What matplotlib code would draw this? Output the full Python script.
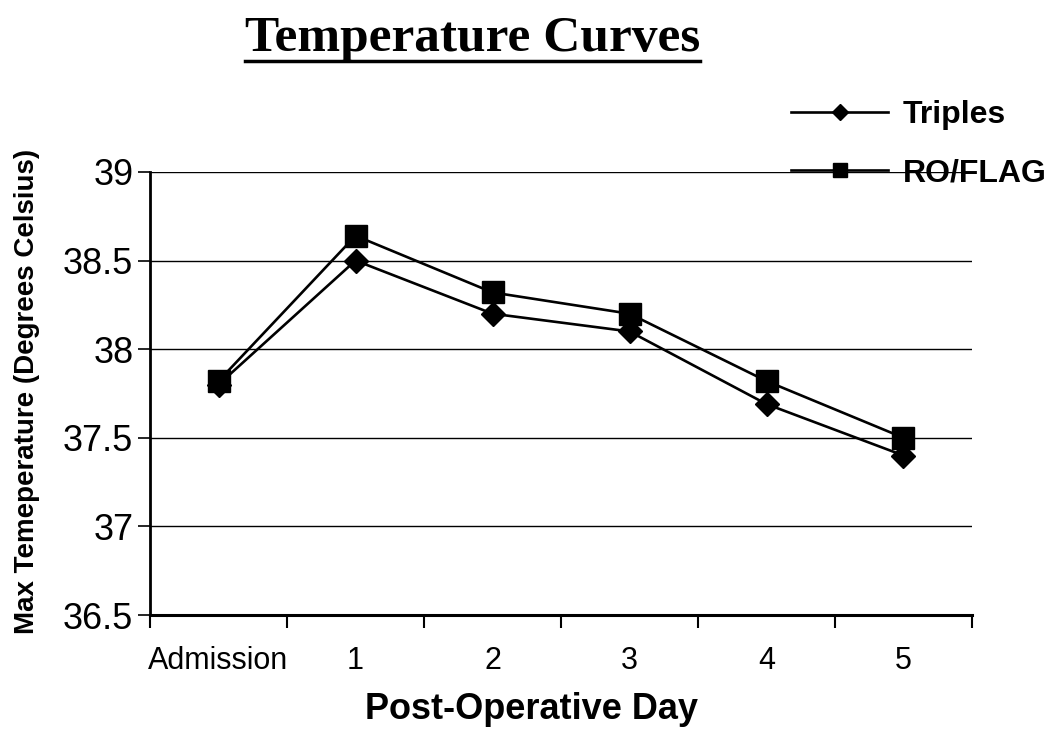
import numpy as np
import matplotlib
matplotlib.use('Agg')
import matplotlib.pyplot as plt
from matplotlib.lines import Line2D

# data
days = ['Admission', '1', '2', '3', '4', '5']
triples = [37.8, 38.5, 38.2, 38.1, 37.69, 37.4]
ro_flag = [37.82, 38.64, 38.32, 38.2, 37.82, 37.5]
yticks = [36.5, 37, 37.5, 38, 38.5, 39]

plt.rcParams['font.family'] = ['Liberation Sans', 'DejaVu Sans']

fig = plt.figure(figsize=(10.5, 7.41), dpi=100)
ax = fig.add_axes([0.1429, 0.170, 0.7828, 0.598])

x = np.arange(len(days))
ax.plot(x, triples, color='black', lw=1.9, marker='D', ms=12, label='Triples', zorder=3)
ax.plot(x, ro_flag, color='black', lw=1.9, marker='s', ms=16, label='RO/FLAG', zorder=3)

ax.set_xlim(-0.5, len(days) - 0.5)
ax.set_ylim(36.5, 39)
ax.set_yticks(yticks)
ax.set_yticklabels(['36.5', '37', '37.5', '38', '38.5', '39'], fontsize=26)
for v in yticks[1:]:
    ax.axhline(v, color='black', lw=1.0, zorder=1)

ax.set_xticks(x)
ax.set_xticklabels(days)
for lab in ax.get_xticklabels():
    lab.set_fontsize(22)
ax.tick_params(axis='x', which='major', length=0, pad=22)
ax.set_xticks(np.arange(-0.5, len(days) + 0.5, 1.0), minor=True)
ax.tick_params(axis='x', which='minor', length=9, width=1.5, direction='out')
ax.tick_params(axis='y', length=9, width=1.2, direction='out', pad=3)

for s in ['top', 'right']:
    ax.spines[s].set_visible(False)
ax.spines['left'].set_linewidth(2)
ax.spines['bottom'].set_linewidth(2.2)

xl = ax.set_xlabel('Post-Operative Day', fontsize=26, fontweight='bold')
ax.xaxis.set_label_coords(0.4635, -0.214)
xl.set_verticalalignment('center')
yl = ax.set_ylabel('Max Temeperature (Degrees Celsius)', fontsize=20, fontweight='bold')
ax.yaxis.set_label_coords(-0.15, 0.505)
yl.set_verticalalignment('center')

ax.legend(loc='upper left', bbox_to_anchor=(0.738, 0.886), bbox_transform=fig.transFigure,
          frameon=False, prop={'size': 23, 'weight': 'bold'}, handlelength=3.05,
          handletextpad=0.45, labelspacing=0.88, borderpad=0, markerscale=0.65)

title = fig.text(0.45, 0.947, 'Temperature Curves', ha='center', va='center',
                 fontsize=37, fontweight='bold', family=['Liberation Serif', 'DejaVu Serif'])
fig.canvas.draw()
bb = title.get_window_extent().transformed(fig.transFigure.inverted())
fig.add_artist(Line2D([bb.x0, bb.x1], [bb.y0 + 0.002, bb.y0 + 0.002],
                      transform=fig.transFigure, color='black', lw=2.5))

fig.savefig('out.png', dpi=100)
